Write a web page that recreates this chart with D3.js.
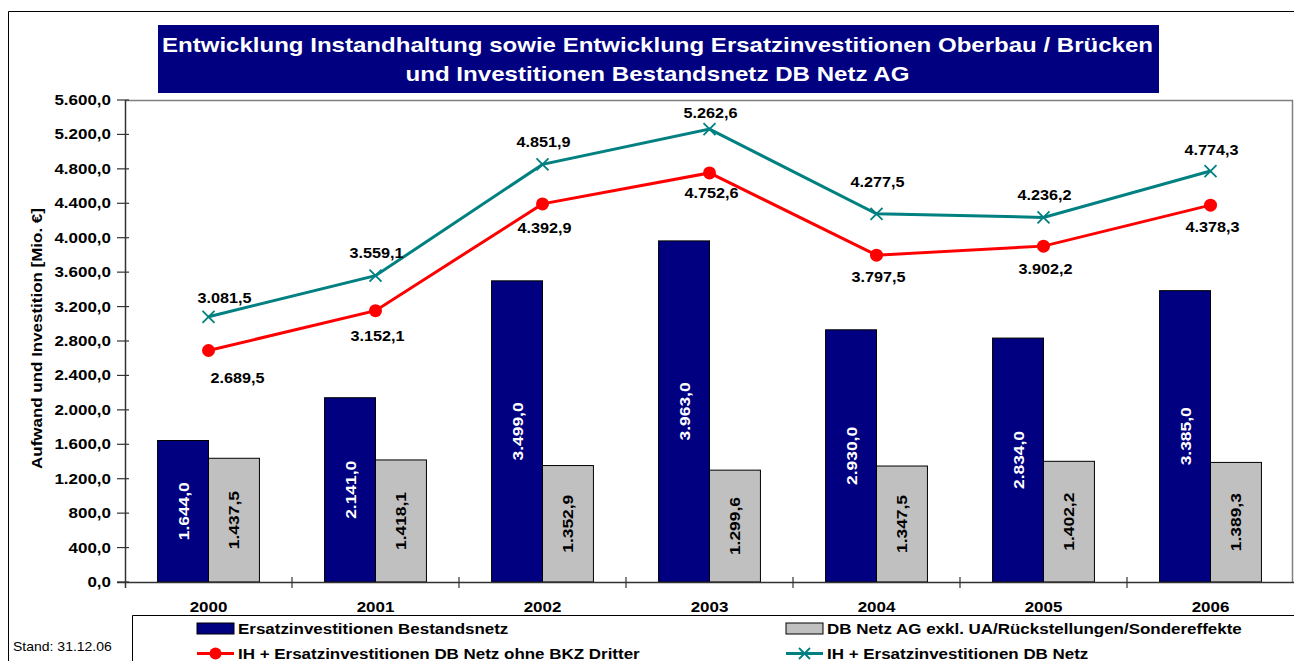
<!DOCTYPE html>
<html><head><meta charset="utf-8">
<script src="https://cdn.jsdelivr.net/npm/d3@7"></script>
<style>body{margin:0;background:#fff;}svg{display:block;font-family:"Liberation Sans",Arial,sans-serif;}</style>
</head><body>
<svg id="c" width="1294" height="661"></svg>
<script>
const years = ["2000","2001","2002","2003","2004","2005","2006"];
const ersatz = [1644.0, 2141.0, 3499.0, 3963.0, 2930.0, 2834.0, 3385.0];
const dbNetz = [1437.5, 1418.1, 1352.9, 1299.6, 1347.5, 1402.2, 1389.3];
const ihOhneBKZ = [2689.5, 3152.1, 4392.9, 4752.6, 3797.5, 3902.2, 4378.3];
const ihGesamt = [3081.5, 3559.1, 4851.9, 5262.6, 4277.5, 4236.2, 4774.3];
const yTicks = [0,400,800,1200,1600,2000,2400,2800,3200,3600,4000,4400,4800,5200,5600];
const seriesNames = ["Ersatzinvestitionen Bestandsnetz","DB Netz AG exkl. UA/Rückstellungen/Sondereffekte","IH + Ersatzinvestitionen DB Netz ohne BKZ Dritter","IH + Ersatzinvestitionen DB Netz"];
const titleLines = ["Entwicklung Instandhaltung sowie Entwicklung Ersatzinvestitionen Oberbau / Brücken","und Investitionen Bestandsnetz DB Netz AG"];

const NAVY="#000080", GREY="#C0C0C0", RED="#FF0000", TEAL="#008080";
const SX = 1.17;
// small manual label nudges (as in the original chart's hand-placed labels)
const tealNudge = [0, -4, -3, 3, -13, -3, -2];
const redNudge  = [3, 1, 0, -4, -2, -1, -2];
const fmt = v => { const s = d3.format(",.1f")(v); return s.replace(/,/g,"#").replace(".",",").replace(/#/g,"."); };

const svg = d3.select("#c");
function txt(x, y, s, opt={}) {
  const rot = opt.rotate ? ` rotate(${opt.rotate})` : "";
  return svg.append("text")
    .attr("transform", `translate(${x},${y})${rot} scale(${opt.sx||SX},1)`)
    .attr("text-anchor", opt.anchor || "middle")
    .attr("font-weight", opt.weight || "bold")
    .attr("font-size", (opt.size||14.5)+"px")
    .attr("fill", opt.fill || "#000")
    .text(s);
}

// outer frame
svg.append("path").attr("d","M8.5,661 V11.5 H1294").attr("fill","none").attr("stroke","#000").attr("stroke-width",1);

const L=125, R=1294, T=100, B=582;
const x = d3.scaleBand().domain(years).range([L,R]).paddingInner(0.39).paddingOuter(0.195);
const xc = d3.scaleBand().domain(years).range([L,R]);
const y = d3.scaleLinear().domain([0,5600]).range([B,T]);

// plot area border (gray top & right)
svg.append("path").attr("d",`M${L},${T+0.5} H${R-1.5} V${B}`).attr("fill","none").attr("stroke","#808080").attr("stroke-width",1.5);

// title
svg.append("rect").attr("x",158).attr("y",25).attr("width",1001).attr("height",68).attr("fill",NAVY);
const tLen = [991, 504];
svg.selectAll(".tl").data(titleLines).enter().append("text")
  .attr("x",657.5).attr("y",(d,i)=>52+i*29).attr("text-anchor","middle")
  .attr("textLength",(d,i)=>tLen[i]).attr("lengthAdjust","spacingAndGlyphs")
  .attr("fill","#fff").attr("font-weight","bold").attr("font-size","21px").text(d=>d);

// bars
const bw = x.bandwidth()/2;
years.forEach((yr,i)=>{
  const x0 = x(yr);
  svg.append("rect").attr("x",x0).attr("y",y(ersatz[i])).attr("width",bw).attr("height",B-y(ersatz[i]))
    .attr("fill",NAVY).attr("stroke","#000").attr("stroke-width",1);
  svg.append("rect").attr("x",x0+bw).attr("y",y(dbNetz[i])).attr("width",bw).attr("height",B-y(dbNetz[i]))
    .attr("fill",GREY).attr("stroke","#000").attr("stroke-width",1);
});
years.forEach((yr,i)=>{
  const x0 = x(yr);
  txt(x0+bw/2+5.5, (y(ersatz[i])+B)/2, fmt(ersatz[i]), {rotate:-90, size:15, fill:"#fff", sx:1.16});
  txt(x0+bw*1.5+5.5, (y(dbNetz[i])+B)/2, fmt(dbNetz[i]), {rotate:-90, size:15, fill:"#000", sx:1.16});
});

// y axis
svg.append("line").attr("x1",L+0.5).attr("x2",L+0.5).attr("y1",T).attr("y2",B+6).attr("stroke","#333").attr("stroke-width",1.5);
svg.selectAll(".yt").data(yTicks).enter().append("line")
  .attr("x1",L-8).attr("x2",L+4).attr("y1",d=>y(d)).attr("y2",d=>y(d)).attr("stroke","#333").attr("stroke-width",1.2);
yTicks.forEach(d=> txt(111, y(d)+5, fmt(d), {anchor:"end"}));

// x axis
svg.append("line").attr("x1",L-8).attr("x2",R).attr("y1",B+0.5).attr("y2",B+0.5).attr("stroke","#333").attr("stroke-width",1.5);
svg.selectAll(".xt").data(years.slice(1)).enter().append("line")
  .attr("x1",d=>xc(d)).attr("x2",d=>xc(d)).attr("y1",B-5).attr("y2",B+6).attr("stroke","#333").attr("stroke-width",1.2);
years.forEach(d=> txt(xc(d)+xc.bandwidth()/2, 612, d));

// y title
txt(42, 338.5, "Aufwand und Investition [Mio. €]", {rotate:-90, size:14.5, sx:1.17});

// lines
const cx = i => xc(years[i]) + xc.bandwidth()/2;
const line = d3.line().x((d,i)=>cx(i)).y(d=>y(d));
svg.append("path").datum(ihOhneBKZ).attr("d",line).attr("fill","none").attr("stroke",RED).attr("stroke-width",3);
svg.append("path").datum(ihGesamt).attr("d",line).attr("fill","none").attr("stroke",TEAL).attr("stroke-width",3);
ihOhneBKZ.forEach((v,i)=>{
  svg.append("circle").attr("cx",cx(i)).attr("cy",y(v)).attr("r",6.5).attr("fill",RED);
});
ihGesamt.forEach((v,i)=>{
  const px=cx(i), py=y(v), s=6;
  svg.append("path").attr("d",`M${px-s},${py-s}L${px+s},${py+s}M${px-s},${py+s}L${px+s},${py-s}`)
    .attr("stroke",TEAL).attr("stroke-width",1.8);
});
// labels
ihGesamt.forEach((v,i)=> txt(cx(i)+(i===0?16:1), y(v)-14+tealNudge[i], fmt(v), {sx:1.12}));
ihOhneBKZ.forEach((v,i)=> txt(cx(i)+(i===0?29:2), y(v)+29+redNudge[i], fmt(v), {sx:1.12}));

// legend
svg.append("path").attr("d","M1294,615.5 H132.5 V661").attr("fill","none").attr("stroke","#000").attr("stroke-width",1);
const leg = [
  {x:197, y:628.5, type:"rect", fill:NAVY, name:seriesNames[0]},
  {x:786, y:628.5, type:"rect", fill:GREY, name:seriesNames[1]},
  {x:197, y:653.5, type:"circle", fill:RED, name:seriesNames[2]},
  {x:786, y:653.5, type:"x", fill:TEAL, name:seriesNames[3]}
];
leg.forEach(d=>{
  if(d.type==="rect"){
    svg.append("rect").attr("x",d.x).attr("y",d.y-5.5).attr("width",37).attr("height",11).attr("fill",d.fill).attr("stroke","#000").attr("stroke-width",1);
  } else {
    svg.append("line").attr("x1",d.x).attr("x2",d.x+37).attr("y1",d.y).attr("y2",d.y).attr("stroke",d.fill).attr("stroke-width",3);
    if(d.type==="circle") svg.append("circle").attr("cx",d.x+18.5).attr("cy",d.y).attr("r",6).attr("fill",d.fill);
    else { const px=d.x+18.5, py=d.y, s=5.5; svg.append("path").attr("d",`M${px-s},${py-s}L${px+s},${py+s}M${px-s},${py+s}L${px+s},${py-s}`).attr("stroke",d.fill).attr("stroke-width",1.8); }
  }
  txt(d.x+41, d.y+5.5, d.name, {anchor:"start"});
});

txt(13, 651, "Stand: 31.12.06", {anchor:"start", weight:"normal", size:12.5, sx:1.12});
</script>
</body></html>
